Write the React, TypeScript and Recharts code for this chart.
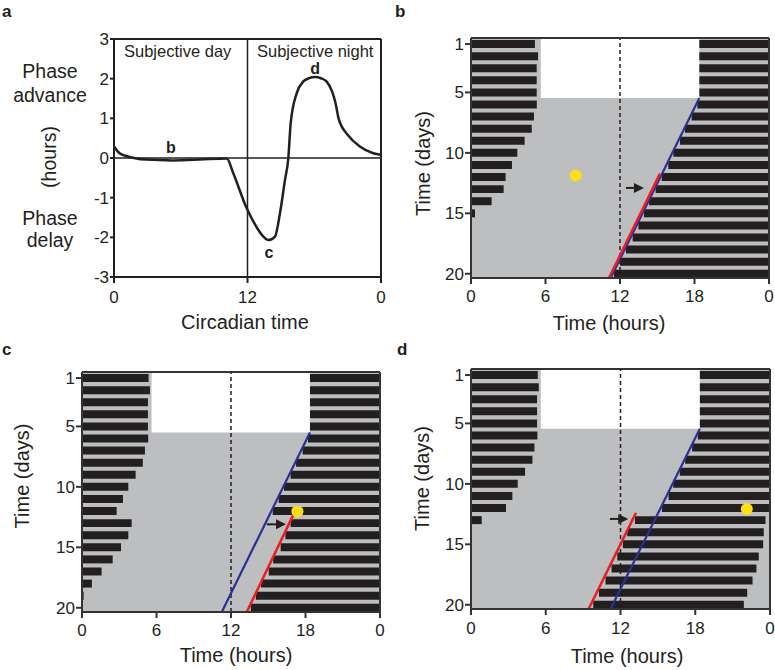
import React from 'react';
import {
  ComposedChart,
  Line,
  XAxis,
  YAxis,
  ReferenceLine,
  ReferenceArea,
  ReferenceDot,
} from 'recharts';

const FONT = '"Liberation Sans", Arial, Helvetica, sans-serif';
const INK = '#231f20';
const AXIS = '#333333';
const GREY = '#bcbec0';
const BLUE = '#2b3192';
const RED = '#ed1c24';
const YELLOW = '#ffde17';

// panel a: phase response curve (circadian time -> phase shift in hours)
const ctHours = [0, 0.5, 1.1, 2.9, 5.3, 7.7, 10.13, 10.73, 11.87, 12.52, 13.42, 13.87, 14.47, 14.92, 15.37, 15.67, 15.88, 16.42, 17.02, 17.5, 18.07, 18.6, 19.1, 19.6, 19.9, 20.2, 20.5, 20.9, 22.1, 23.3, 24];
const phaseShift = [0.29, 0.12, 0.05, -0.04, -0.06, -0.04, -0.01, -0.39, -1.23, -1.6, -1.98, -2.07, -1.98, -1.39, -0.55, 0, 0.87, 1.63, 1.93, 2.01, 2.04, 2.01, 1.93, 1.68, 1.4, 0.98, 0.78, 0.62, 0.29, 0.12, 0.08];

// actograms: rows of days, activity bouts in hours
const days = [1, 2, 3, 4, 5, 6, 7, 8, 9, 10, 11, 12, 13, 14, 15, 16, 17, 18, 19, 20];
const hourTicks = [0, 6, 12, 18, 24];
const dayTicks = [1, 5, 10, 15, 20];

const bLeftEnd = [5.15, 5.4, 5.29, 5.29, 5.29, 5.3, 5.07, 4.89, 4.32, 3.73, 3.3, 2.79, 2.63, 1.66, 0.32, 0, 0, 0, 0, 0];
const bRightStart = [18.39, 18.39, 18.39, 18.39, 18.39, 18.23, 17.77, 17.23, 16.83, 16.3, 15.89, 15.36, 14.87, 14.34, 13.93, 13.48, 13.02, 12.48, 12.0, 11.52];
const bRightEnd = [24, 24, 24, 24, 24, 24, 24, 24, 24, 24, 24, 24, 24, 24, 24, 24, 24, 24, 24, 24];

const cLeftEnd = [5.36, 5.47, 5.31, 5.31, 5.31, 5.33, 5.07, 4.9, 4.32, 3.73, 3.3, 2.79, 4.0, 3.73, 3.14, 2.47, 1.58, 0.8, 0.13, 0];
const cRightStart = [18.36, 18.36, 18.36, 18.36, 18.36, 18.2, 17.77, 17.24, 16.8, 16.27, 15.84, 15.36, 16.8, 16.38, 16.0, 15.4, 15.04, 14.42, 14.0, 13.6];
const cRightEnd = [24, 24, 24, 24, 24, 24, 24, 24, 24, 24, 24, 24, 24, 24, 24, 24, 24, 24, 24, 24];

const dLeftEnd = [5.36, 5.44, 5.3, 5.3, 5.3, 5.33, 5.09, 4.93, 4.34, 3.75, 3.32, 2.81, 0.86, 0, 0, 0, 0, 0, 0, 0];
const dRightStart = [18.37, 18.37, 18.37, 18.37, 18.37, 18.21, 17.75, 17.19, 16.76, 16.23, 15.86, 15.32, 13.16, 12.54, 12.19, 11.74, 11.28, 10.8, 10.27, 9.81];
const dRightEnd = [24, 24, 24, 24, 24, 24, 24, 24, 24, 24, 24, 24, 23.64, 23.5, 23.45, 23.1, 22.91, 22.6, 22.17, 21.9];

// light period during entrainment (hours, last LD day)
const lightOn = [5.62, 5.6, 5.6];
const lightOff = [18.39, 18.36, 18.37];
const lightEndDay = [5.46, 5.5, 5.45];

// free-run (blue) and shifted (red) onset lines: [hour, day]
const bBlue = [[18.39, 5.46], [11.25, 20.35]];
const bRed = [[15.22, 11.72], [11.11, 20.35]];
const cBlue = [[18.36, 5.5], [11.26, 20.35]];
const cRed = [[17.0, 12.36], [13.27, 20.35]];
const dBlue = [[18.37, 5.45], [11.2, 20.35]];
const dRed = [[13.24, 12.4], [9.44, 20.35]];

// light pulse and shift arrow
const bPulse = [8.43, 11.88];
const cPulse = [17.35, 12.03];
const dPulse = [22.14, 12.07];
const bArrow = [12.48, 13.93, 12.9];
const cArrow = [14.88, 16.43, 13.1];
const dArrow = [11.15, 12.62, 12.9];

const HALF = 0.33;
const fmtHour = (v: number) => String(v % 24);
const tickStyle = { fill: INK, fontSize: 17, fontFamily: FONT };

function ArrowHead(p: any) {
  const { cx, cy } = p;
  return <polygon points={`${cx},${cy} ${cx - 10},${cy - 5} ${cx - 10},${cy + 5}`} fill={INK} />;
}

type ActoProps = {
  left: number;
  top: number;
  width: number;
  height: number;
  margin: { top: number; right: number; bottom: number; left: number };
  yWidth: number;
  xHeight: number;
  tickGap: number;
  leftEnd: number[];
  rightStart: number[];
  rightEnd: number[];
  light: number;
  blue: number[][];
  red: number[][];
  pulse: number[];
  arrow: number[];
};

function Actogram(props: ActoProps) {
  const { leftEnd, rightStart, rightEnd, light, blue, red, pulse, arrow } = props;
  const rows = days.map((d, i) => ({ day: d, onset: rightStart[i], offset: rightEnd[i] }));
  return (
    <div style={{ position: 'absolute', left: props.left, top: props.top }}>
      <ComposedChart width={props.width} height={props.height} data={rows} margin={props.margin}>
        <XAxis
          type="number"
          dataKey="onset"
          domain={[0, 24]}
          ticks={hourTicks}
          interval={0}
          allowDataOverflow
          tickFormatter={fmtHour}
          height={props.xHeight}
          tickSize={6}
          tickMargin={props.tickGap}
          axisLine={{ stroke: AXIS, strokeWidth: 2 }}
          tickLine={{ stroke: AXIS, strokeWidth: 2 }}
          tick={tickStyle}
        />
        <YAxis
          type="number"
          dataKey="day"
          domain={[0.5, 20.35]}
          reversed
          ticks={dayTicks}
          interval={0}
          allowDataOverflow
          width={props.yWidth}
          tickSize={6}
          tickMargin={1}
          axisLine={{ stroke: AXIS, strokeWidth: 2 }}
          tickLine={{ stroke: AXIS, strokeWidth: 2 }}
          tick={tickStyle}
        />
        <ReferenceArea x1={0} x2={24} y1={0.5} y2={20.35} fill={GREY} fillOpacity={1} zIndex={10} />
        <ReferenceArea
          x1={lightOn[light]}
          x2={lightOff[light]}
          y1={0.5}
          y2={lightEndDay[light]}
          fill="#ffffff"
          fillOpacity={1}
          zIndex={20}
        />
        <ReferenceLine x={12} stroke={INK} strokeWidth={1.5} strokeDasharray="4 3" zIndex={50} />
        {days.map((d, i) =>
          leftEnd[i] > 0 ? (
            <ReferenceArea key={'l' + d} x1={0} x2={leftEnd[i]} y1={d - HALF} y2={d + HALF} fill={INK} fillOpacity={1} />
          ) : null
        )}
        {days.map((d, i) => (
          <ReferenceArea key={'r' + d} x1={rightStart[i]} x2={rightEnd[i]} y1={d - HALF} y2={d + HALF} fill={INK} fillOpacity={1} />
        ))}
        <ReferenceLine
          segment={[{ x: blue[0][0], y: blue[0][1] }, { x: blue[1][0], y: blue[1][1] }]}
          stroke={BLUE}
          strokeWidth={2.2}
        />
        <ReferenceLine
          segment={[{ x: red[0][0], y: red[0][1] }, { x: red[1][0], y: red[1][1] }]}
          stroke={RED}
          strokeWidth={2.5}
        />
        <ReferenceLine
          segment={[{ x: arrow[0], y: arrow[2] }, { x: arrow[1] - 0.4, y: arrow[2] }]}
          stroke={INK}
          strokeWidth={2}
        />
        <ReferenceDot x={arrow[1]} y={arrow[2]} r={1} shape={ArrowHead} />
        <ReferenceDot x={pulse[0]} y={pulse[1]} r={6} fill={YELLOW} stroke="none" />
        <ReferenceLine y={0.5} stroke={AXIS} strokeWidth={2} />
        <ReferenceLine x={24} stroke={AXIS} strokeWidth={2} />
      </ComposedChart>
    </div>
  );
}

const txt = { fontFamily: FONT, fill: INK };

export default function App() {
  const prcData = ctHours.map((ct, i) => ({ ct, shift: phaseShift[i] }));
  const bold = { fill: INK, fontSize: 16, fontWeight: 700, fontFamily: FONT };
  const plain = { fill: INK, fontSize: 16.5, fontFamily: FONT };
  return (
    <div style={{ position: 'fixed', left: 0, top: 0, width: 775, height: 670, background: '#fff', overflow: 'hidden' }}>
      <div style={{ position: 'absolute', left: 0, top: 0 }}>
        <ComposedChart width={390} height={330} data={prcData} margin={{ top: 39, right: 9, bottom: 0, left: 0 }}>
          <XAxis
            type="number"
            dataKey="ct"
            domain={[0, 24]}
            ticks={[0, 12, 24]}
            interval={0}
            tickFormatter={fmtHour}
            height={53}
            tickSize={6}
            tickMargin={8}
            axisLine={{ stroke: INK, strokeWidth: 2 }}
            tickLine={{ stroke: INK, strokeWidth: 2 }}
            tick={tickStyle}
          />
          <YAxis
            type="number"
            domain={[-3, 3]}
            ticks={[-3, -2, -1, 0, 1, 2, 3]}
            interval={0}
            width={114}
            tickSize={4}
            tickMargin={1}
            axisLine={{ stroke: INK, strokeWidth: 2 }}
            tickLine={{ stroke: INK, strokeWidth: 2 }}
            tick={tickStyle}
          />
          <ReferenceLine y={0} stroke={INK} strokeWidth={1.5} />
          <ReferenceLine x={12} stroke={INK} strokeWidth={1.5} />
          <ReferenceLine y={3} stroke={INK} strokeWidth={2} />
          <ReferenceLine x={24} stroke={INK} strokeWidth={2} />
          <Line
            dataKey="shift"
            type="monotone"
            stroke={INK}
            strokeWidth={2.5}
            dot={false}
            isAnimationActive={false}
          />
          <ReferenceDot x={0.81} y={2.7} r={1} fill="none" stroke="none" label={{ value: 'Subjective day', position: 'right', offset: 0, ...plain }} />
          <ReferenceDot x={12.76} y={2.7} r={1} fill="none" stroke="none" label={{ value: 'Subjective night', position: 'right', offset: 0, ...plain }} />
          <ReferenceDot x={5.12} y={0.27} r={1} fill="none" stroke="none" label={{ value: 'b', position: 'center', ...bold }} />
          <ReferenceDot x={13.93} y={-2.38} r={1} fill="none" stroke="none" label={{ value: 'c', position: 'center', ...bold }} />
          <ReferenceDot x={18.07} y={2.26} r={1} fill="none" stroke="none" label={{ value: 'd', position: 'center', ...bold }} />
        </ComposedChart>
      </div>

      <Actogram
        left={390} top={0} width={385} height={340}
        margin={{ top: 38, right: 6, bottom: 0, left: 0 }}
        yWidth={81} xHeight={62} tickGap={6}
        leftEnd={bLeftEnd} rightStart={bRightStart} rightEnd={bRightEnd}
        light={0} blue={bBlue} red={bRed} pulse={bPulse} arrow={bArrow}
      />
      <Actogram
        left={0} top={330} width={390} height={340}
        margin={{ top: 42, right: 10, bottom: 0, left: 0 }}
        yWidth={82} xHeight={58} tickGap={6}
        leftEnd={cLeftEnd} rightStart={cRightStart} rightEnd={cRightEnd}
        light={1} blue={cBlue} red={cRed} pulse={cPulse} arrow={cArrow}
      />
      <Actogram
        left={390} top={330} width={385} height={340}
        margin={{ top: 39, right: 5, bottom: 0, left: 0 }}
        yWidth={81} xHeight={61} tickGap={7}
        leftEnd={dLeftEnd} rightStart={dRightStart} rightEnd={dRightEnd}
        light={2} blue={dBlue} red={dRed} pulse={dPulse} arrow={dArrow}
      />

      <svg width={775} height={670} style={{ position: 'absolute', left: 0, top: 0, pointerEvents: 'none' }}>
        <g {...txt} fontWeight={700} fontSize={17}>
          <text x={2} y={17}>a</text>
          <text x={395} y={17}>b</text>
          <text x={2} y={355}>c</text>
          <text x={397} y={355}>d</text>
        </g>
        <g {...txt} fontSize={19.5} textAnchor="middle">
          <text x={50} y={78}>Phase</text>
          <text x={50} y={102}>advance</text>
          <text transform="translate(56,157) rotate(-90)">(hours)</text>
          <text x={50} y={225}>Phase</text>
          <text x={50} y={247}>delay</text>
        </g>
        <g {...txt} fontSize={20} textAnchor="middle">
          <text x={245} y={329}>Circadian time</text>
          <text x={609} y={330}>Time (hours)</text>
          <text x={236} y={662}>Time (hours)</text>
          <text x={627} y={663}>Time (hours)</text>
          <text transform="translate(429.5,163.5) rotate(-90)">Time (days)</text>
          <text transform="translate(29.4,476) rotate(-90)">Time (days)</text>
          <text transform="translate(429.4,478.5) rotate(-90)">Time (days)</text>
        </g>
      </svg>
    </div>
  );
}
